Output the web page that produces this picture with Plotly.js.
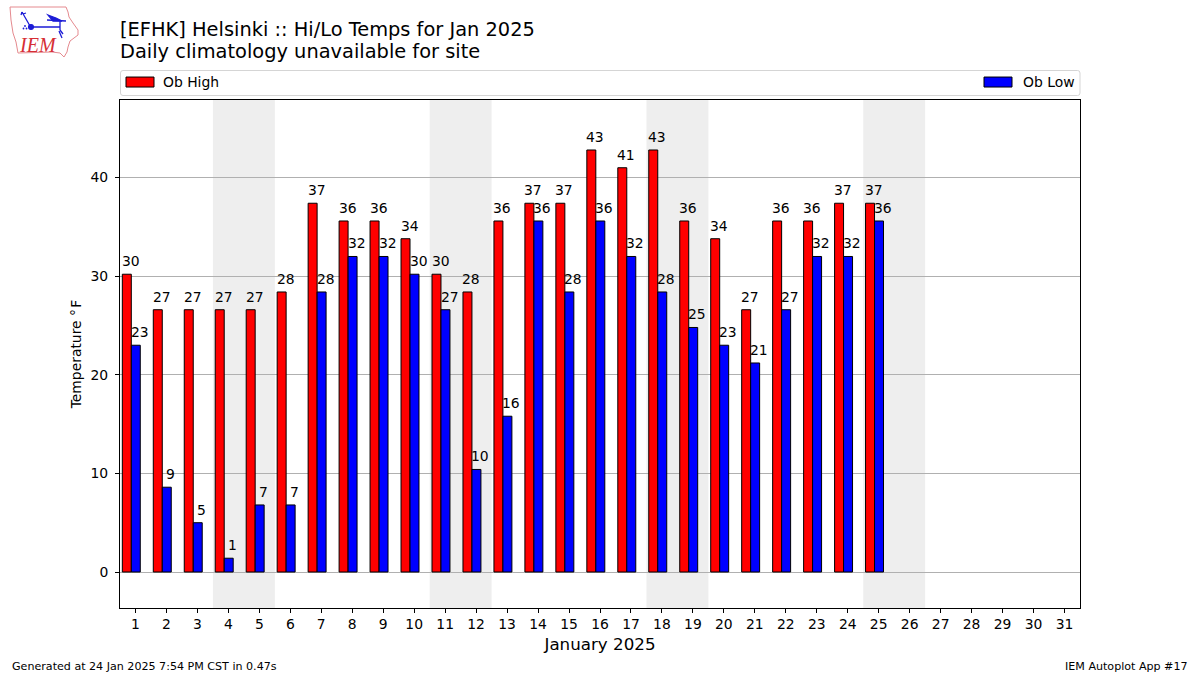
<!DOCTYPE html>
<html><head><meta charset="utf-8">
<script src="https://cdn.plot.ly/plotly-3.0.1.min.js"></script>
<style>html,body{margin:0;padding:0;background:#fff}#chart{width:1200px;height:675px}</style>
</head><body><div id="chart"></div>
<script>
const days = [1,2,3,4,5,6,7,8,9,10,11,12,13,14,15,16,17,18,19,20,21,22,23,24,25];
const highs = [30.2,26.6,26.6,26.6,26.6,28.4,37.4,35.6,35.6,33.8,30.2,28.4,35.6,37.4,37.4,42.8,41,42.8,35.6,33.8,26.6,35.6,35.6,37.4,37.4];
const lows = [23,8.6,5,1.4,6.8,6.8,28.4,32,32,30.2,26.6,10.4,15.8,35.6,28.4,35.6,32,28.4,24.8,23,21.2,26.6,32,32,35.6];
const weekendBands = [[3.5,5.5],[10.5,12.5],[17.5,19.5],[24.5,26.5]];
const tickDays = Array.from({length:31},(_,i)=>i+1);
const titleText = "[EFHK] Helsinki :: Hi/Lo Temps for Jan 2025<br>Daily climatology unavailable for site";
const footerLeft = "Generated at 24 Jan 2025 7:54 PM CST in 0.47s";
const footerRight = "IEM Autoplot App #17";

const W=1200,H=675, L=120,R=1080,T=100,B=608;
const FONT='"DejaVu Sans", sans-serif';
const px=x=>(x-L)/(R-L), py=y=>(B-y)/(B-T);

function label(x,y,t){return {x:x,y:y,xref:'x',yref:'y',text:String(Math.round(t)),showarrow:false,xanchor:'center',yanchor:'bottom',yshift:3,font:{family:FONT,size:13.9,color:'#000'}};}
const annos=[];
days.forEach((d,i)=>{annos.push(label(d-0.15,highs[i],highs[i]));annos.push(label(d+0.14,lows[i],lows[i]));});
annos.push({xref:'paper',yref:'paper',x:px(12),y:py(666),text:footerLeft,showarrow:false,xanchor:'left',yanchor:'middle',xshift:-2,font:{family:FONT,size:11.1,color:'#000'}});
annos.push({xref:'paper',yref:'paper',x:px(1188),y:py(666),text:footerRight,showarrow:false,xanchor:'right',yanchor:'middle',xshift:2,font:{family:FONT,size:11.1,color:'#000'}});
annos.push({xref:'paper',yref:'paper',x:px(37.5),y:py(45),text:'<i>IEM</i>',showarrow:false,xanchor:'center',yanchor:'middle',font:{family:'"Liberation Serif", serif',size:20,color:'#d62e35'}});

const shapes=weekendBands.map(b=>({type:'rect',layer:'below',xref:'x',yref:'paper',x0:b[0],x1:b[1],y0:0,y1:1,fillcolor:'#eeeeee',line:{width:0}}));
function rr(x0,y0,x1,y1,r){const X=px,Y=py;return `M${X(x0+r)},${Y(y0)}L${X(x1-r)},${Y(y0)}Q${X(x1)},${Y(y0)} ${X(x1)},${Y(y0+r)}L${X(x1)},${Y(y1-r)}Q${X(x1)},${Y(y1)} ${X(x1-r)},${Y(y1)}L${X(x0+r)},${Y(y1)}Q${X(x0)},${Y(y1)} ${X(x0)},${Y(y1-r)}L${X(x0)},${Y(y0+r)}Q${X(x0)},${Y(y0)} ${X(x0+r)},${Y(y0)}Z`;}
shapes.push({type:'path',xref:'paper',yref:'paper',path:rr(120.5,70.5,1080,95.5,2.5),line:{color:'#d5d5d5',width:1},fillcolor:'#fff',layer:'below'});

const traces=[
 {type:'bar',name:'Ob High',x:days.map(d=>d-0.28),y:highs,width:0.29,showlegend:true,marker:{color:'#ff0000',line:{color:'#000',width:1}},legend:'legend',hoverinfo:'y'},
 {type:'bar',name:'Ob Low',x:days.map(d=>d+0.01),y:lows,width:0.29,showlegend:true,marker:{color:'#0000ff',line:{color:'#000',width:1}},legend:'legend2',hoverinfo:'y'}
];
const legendBase={yanchor:'middle',y:py(82.5),bgcolor:'rgba(0,0,0,0)',borderwidth:0,font:{family:FONT,size:13.9},itemwidth:36,orientation:'v'};
const logoSvg='<svg xmlns="http://www.w3.org/2000/svg" width="90" height="60" viewBox="0 0 90 60"><path d="M10,7 L66,7 L68,12 L69,17 L73,23 L78,30 L78,35 L74,38 L70,41 L68,47 L67,52 L64,57 L60,53 L52,52 L18,53 L16,42 L13,33 L11,20 Z" fill="none" stroke="#e58a8f" stroke-width="1"/><g stroke="#1c1cd6" fill="#1c1cd6" stroke-width="1.3"><path d="M22,12 L30,26 M22,12 L21,15 M23,14 L26,13" fill="none"/><circle cx="31" cy="27" r="2.4"/><path d="M31,27 L60,27 M60,21 L60,30 M47,20 L66,21 M60,30 L63,34 M59,31 L62,38" fill="none"/><path d="M48,15 L56,18 L62,21 L53,21 Z"/></g><g fill="#1c1cd6"><circle cx="25" cy="26" r="0.9"/><circle cx="23.5" cy="28.5" r="0.9"/><circle cx="26.5" cy="28.5" r="0.9"/></g></svg>';
const layout={
 width:W,height:H,paper_bgcolor:'#fff',plot_bgcolor:'rgba(0,0,0,0)',font:{family:FONT,color:'#000'},showlegend:true,
 margin:{l:L,r:W-R,t:T,b:H-B,pad:0},barmode:'overlay',
 title:{text:titleText,xref:'paper',x:0,xanchor:'left',yref:'container',y:1-36/H,yanchor:'middle',font:{family:FONT,size:19.4,color:'#000'}},
 xaxis:{range:[0.5,31.5],tickmode:'array',tickvals:tickDays,ticktext:tickDays.map(String),ticks:'outside',ticklen:4,tickwidth:1,tickcolor:'#000',showgrid:false,zeroline:false,showline:true,mirror:true,linecolor:'#000',linewidth:1,tickangle:0,ticklabelstandoff:-1,tickfont:{family:FONT,size:13.9},title:{text:'January 2025',font:{family:FONT,size:16.7},standoff:7},automargin:false},
 yaxis:{range:[-3.65,47.87],tickmode:'array',tickvals:[0,10,20,30,40],ticks:'outside',ticklen:4,tickwidth:1,tickcolor:'#000',showgrid:true,gridcolor:'#b0b0b0',gridwidth:1,zeroline:false,showline:true,mirror:true,linecolor:'#000',linewidth:1,ticklabelstandoff:4,tickfont:{family:FONT,size:13.9},title:{text:'Temperature °\u200aF',font:{family:FONT,size:13.9},standoff:5},automargin:false},
 legend:Object.assign({},legendBase,{x:px(117),xanchor:'left'}),
 legend2:Object.assign({},legendBase,{x:px(1080),xanchor:'right'}),
 annotations:annos,shapes:shapes,
 images:[{source:'data:image/svg+xml;utf8,'+encodeURIComponent(logoSvg),xref:'paper',yref:'paper',x:px(0),y:py(0),sizex:90/(R-L),sizey:60/(B-T),xanchor:'left',yanchor:'top',sizing:'stretch',layer:'above'}]
};
Plotly.newPlot('chart',traces,layout,{displayModeBar:false}).then(()=>{
  document.querySelectorAll('.legend .legendpoints path').forEach(p=>{p.setAttribute('d','M14,5H-14V-5H14Z');p.style.strokeWidth='1px';});
  document.querySelectorAll('[class*="legend2"] .legendpoints path').forEach(p=>{p.setAttribute('d','M12,5H-16V-5H12Z');});
  const lines=document.querySelectorAll('.gtitle tspan.line');
  if(lines.length>1){const y=parseFloat(lines[1].getAttribute('y'));lines[1].setAttribute('y',y-3);}
});
</script></body></html>
